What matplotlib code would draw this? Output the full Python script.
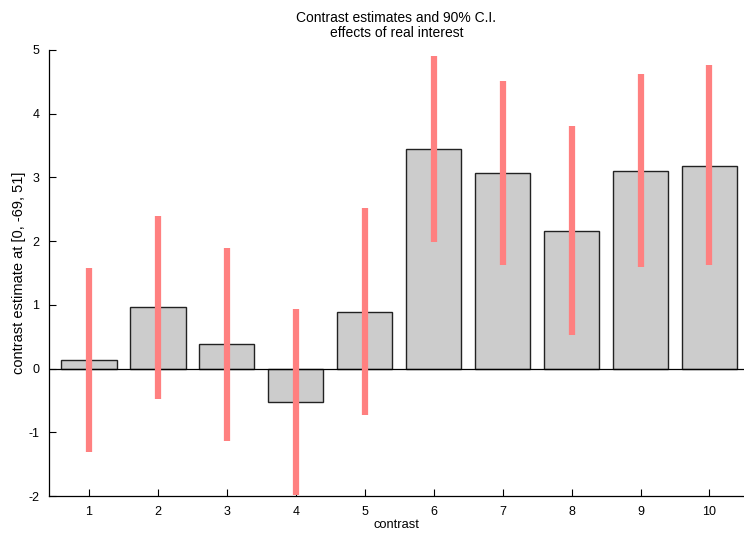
import matplotlib as mpl
mpl.rcParams['font.family'] = ['Liberation Sans', 'DejaVu Sans']
mpl.rcParams['font.size'] = 9
mpl.rcParams['axes.unicode_minus'] = False
import matplotlib.pyplot as plt
import numpy as np

contrasts = [1, 2, 3, 4, 5, 6, 7, 8, 9, 10]
estimates = [0.13, 0.96, 0.39, -0.53, 0.88, 3.45, 3.07, 2.16, 3.10, 3.18]
ci_low = [-1.31, -0.47, -1.14, -1.98, -0.73, 1.99, 1.63, 0.53, 1.59, 1.62]
ci_high = [1.58, 2.39, 1.89, 0.93, 2.52, 4.91, 4.51, 3.80, 4.62, 4.76]

fig = plt.figure(figsize=(7.44, 5.33), dpi=100)
ax = fig.add_axes([0.0659, 0.0694, 0.934, 0.837])

ax.bar(contrasts, estimates, width=0.8, color="#cccccc", edgecolor="#222222", linewidth=1.0, zorder=2)
ax.vlines(contrasts, ci_low, ci_high, color="#ff8080", linewidth=4.5, zorder=3)
ax.axhline(0, color="black", linewidth=0.9, zorder=2.5)

ax.set_xlim(0.42, 10.5)
ax.set_ylim(-2, 5)
ax.set_xticks(contrasts)
ax.set_yticks(range(-2, 6))
ax.tick_params(direction="in", length=5, width=0.8, pad=7, labelsize=9)
for s in ["top", "right"]:
    ax.spines[s].set_visible(False)
for s in ["left", "bottom"]:
    ax.spines[s].set_linewidth(0.9)

ax.set_xlabel("contrast", labelpad=1, fontsize=9.3)
ax.set_ylabel("contrast estimate at [0, -69, 51]", labelpad=2, fontsize=10.5)
ax.set_title("Contrast estimates and 90% C.I.\neffects of real interest", fontsize=10, pad=9, linespacing=1.1)

plt.savefig("out.png", dpi=100)
